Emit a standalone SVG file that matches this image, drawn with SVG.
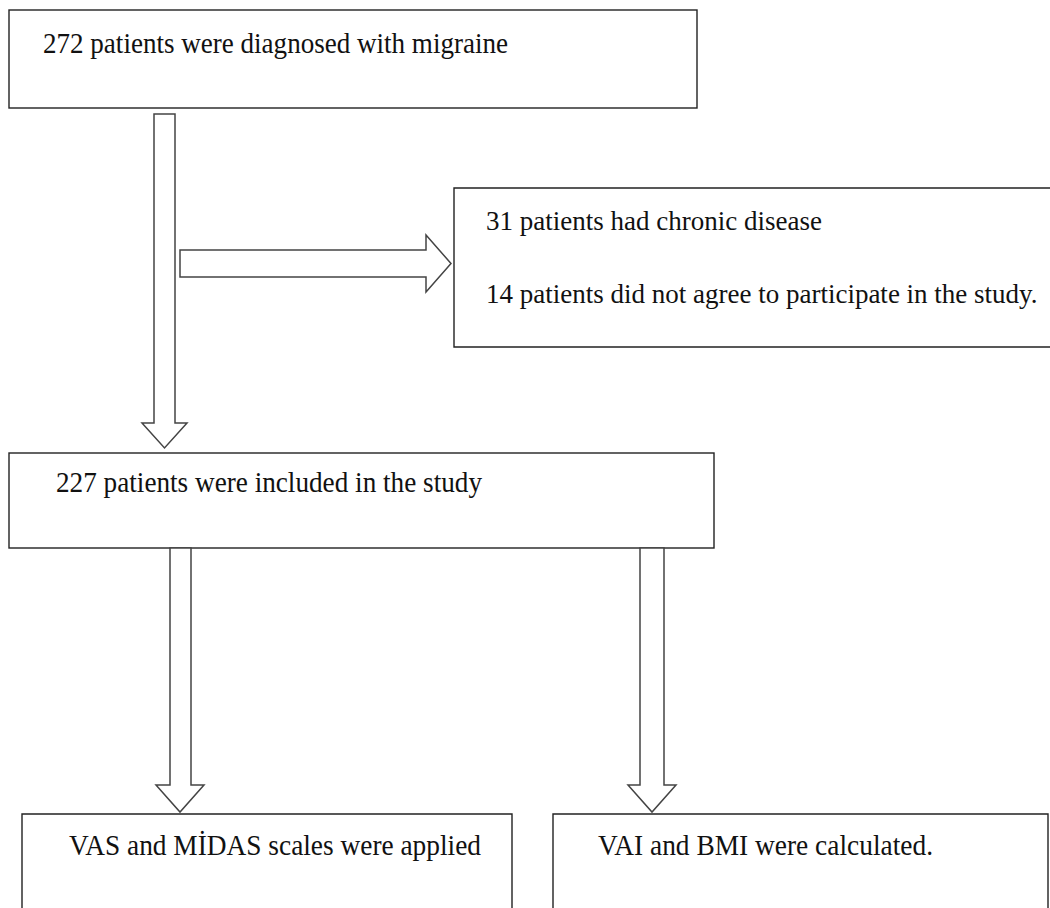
<svg xmlns="http://www.w3.org/2000/svg" width="1050" height="908" viewBox="0 0 1050 908">
<style>
.box{fill:#fff;stroke:#222;stroke-width:1.4}
.arr{fill:#fff;stroke:#444;stroke-width:1.5;stroke-linejoin:miter}
.t{font-family:"Liberation Serif","Times New Roman",serif;font-size:28.5px;fill:#111}
.t2{font-family:"Liberation Serif","Times New Roman",serif;font-size:27px;fill:#111}
</style>
<rect width="1050" height="908" fill="#fff"/>
<g id="n1">
<rect class="box" x="9" y="10" width="688" height="98"/>
<text class="t" x="43" y="53" textLength="465" lengthAdjust="spacingAndGlyphs">272 patients were diagnosed with migraine</text>
</g>
<g id="n2">
<path class="box" d="M1050,188 H454 V347 H1050"/>
<text class="t2" x="486" y="230">31 patients had chronic disease</text>
<text class="t2" x="486" y="303">14 patients did not agree to participate in the study.</text>
</g>
<g id="n3">
<rect class="box" x="9" y="453" width="705" height="95"/>
<text class="t" x="56" y="492" textLength="426" lengthAdjust="spacingAndGlyphs">227 patients were included in the study</text>
</g>
<g id="n4">
<path class="box" d="M22,908 V814 H512 V908"/>
<text class="t" x="69" y="855" textLength="412" lengthAdjust="spacingAndGlyphs">VAS and MİDAS scales were applied</text>
</g>
<g id="n5">
<path class="box" d="M553,908 V814 H1048 V908"/>
<text class="t" x="598" y="855" textLength="335" lengthAdjust="spacingAndGlyphs">VAI and BMI were calculated.</text>
</g>
<g id="connectors">
<polygon class="arr" points="154,114 175,114 175,423 187,423 164.5,448 142,423 154,423"/>
<polygon class="arr" points="180,250 426,250 426,235 451,263.5 426,292 426,277 180,277"/>
<polygon class="arr" points="170,548 191,548 191,785 204,785 180,812 156,785 170,785"/>
<polygon class="arr" points="640,548 664,548 664,785 676,785 652,812 628,785 640,785"/>
</g>
</svg>
